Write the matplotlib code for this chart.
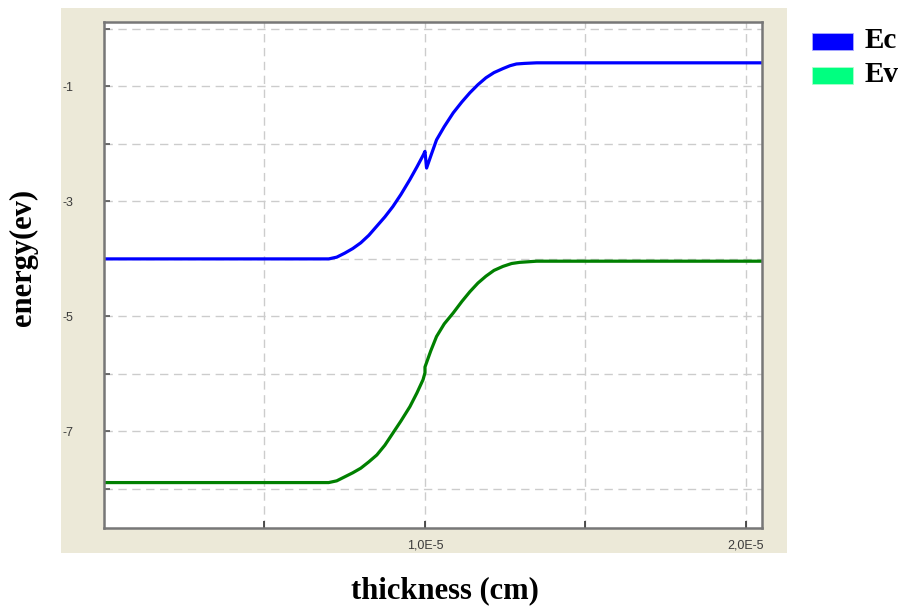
import numpy as np
import matplotlib
matplotlib.use('Agg')
import matplotlib.pyplot as plt
from matplotlib.patches import Rectangle

# thickness in units of 1E-5 cm
ec_x = [0.0, 0.70, 0.725, 0.75, 0.775, 0.80, 0.825, 0.85, 0.875, 0.90, 0.925, 0.953,
        0.975, 0.995, 1.0, 1.005, 1.02, 1.036, 1.06, 1.088, 1.115, 1.14, 1.165, 1.19,
        1.215, 1.243, 1.265, 1.285, 1.31, 1.348, 2.05]
ec_y = [-4.0, -4.0, -3.97, -3.90, -3.82, -3.72, -3.59, -3.43, -3.27, -3.09, -2.88, -2.62,
        -2.40, -2.19, -2.13, -2.42, -2.18, -1.93, -1.70, -1.46, -1.27, -1.11, -0.97, -0.85,
        -0.76, -0.69, -0.64, -0.61, -0.60, -0.59, -0.59]

ev_x = [0.0, 0.70, 0.725, 0.75, 0.775, 0.80, 0.825, 0.85, 0.875, 0.90, 0.925, 0.953,
        0.975, 0.994, 1.0, 1.0, 1.018, 1.036, 1.06, 1.088, 1.115, 1.14, 1.165, 1.19,
        1.215, 1.243, 1.27, 1.295, 1.348, 2.05]
ev_y = [-7.89, -7.89, -7.86, -7.79, -7.72, -7.64, -7.53, -7.41, -7.24, -7.03, -6.82, -6.57,
        -6.33, -6.10, -5.98, -5.88, -5.60, -5.35, -5.13, -4.94, -4.74, -4.57, -4.42, -4.30,
        -4.20, -4.13, -4.08, -4.06, -4.04, -4.04]

series_names = ['Ec', 'Ev']
line_colors = ['#0000ff', '#008000']
legend_colors = ['#0000ff', '#00ff80']

y_ticks = [-8, -7, -6, -5, -4, -3, -2, -1, 0]
y_labeled = [-7, -5, -3, -1]
x_ticks = [0.5, 1.0, 1.5, 2.0]
x_labeled = [1.0, 2.0]

scale = 1e-5
beige = '#ece9d8'

fig = plt.figure(figsize=(9.15, 6.06), dpi=100)
fig.patch.set_facecolor('white')

# beige panel behind the plot area
bg = fig.add_axes([61 / 915, 1 - 553 / 606, (787 - 61) / 915, (553 - 8) / 606], zorder=0)
bg.set_facecolor(beige)
bg.set_xticks([])
bg.set_yticks([])
for sp in bg.spines.values():
    sp.set_visible(False)

ax = fig.add_axes([104 / 915, 1 - 528 / 606, (762 - 104) / 915, (528 - 22) / 606], zorder=2)
ax.set_facecolor('white')

ax.plot(np.array(ec_x) * scale, ec_y, color=line_colors[0], lw=2.3, solid_capstyle='round',
        solid_joinstyle='round')
ax.plot(np.array(ev_x) * scale, ev_y, color=line_colors[1], lw=2.3, solid_capstyle='round',
        solid_joinstyle='round')

ax.set_xlim(0, 2.05 * scale)
ax.set_ylim(-8.68, 0.12)

ax.set_yticks(y_ticks)
ax.set_yticklabels([str(v) if v in y_labeled else '' for v in y_ticks])
ax.set_xticks([v * scale for v in x_ticks])
ax.set_xticklabels([('%.1fE-5' % v).replace('.', ',') if v in x_labeled else '' for v in x_ticks])

ax.grid(True, color='#cccccc', linestyle=(0, (6, 4)), linewidth=1.0)
ax.set_axisbelow(True)

ax.tick_params(axis='y', direction='in', length=4, width=1.2, color='#555555',
               labelsize=9, labelcolor='#3a3a3a', pad=22)
ax.tick_params(axis='x', direction='in', length=5, width=1.2, color='#333333',
               labelsize=9, labelcolor='#3a3a3a', pad=8)
for lab in ax.get_xticklabels() + ax.get_yticklabels():
    lab.set_family('Liberation Sans')

for sp in ax.spines.values():
    sp.set_color('#777777')
    sp.set_linewidth(1.8)

fig.text(23 / 915, 1 - 257 / 606, 'energy(ev)', fontsize=22, fontweight='bold',
         family='Liberation Serif', rotation=90, ha='center', va='center')
fig.text(445 / 915, 1 - 591 / 606, 'thickness (cm)', fontsize=22, fontweight='bold',
         family='Liberation Serif', ha='center', va='center')

# legend drawn as colour blocks with labels
for i, name in enumerate(series_names):
    yc = 1 - (41 + i * 34) / 606
    fig.patches.append(Rectangle((812 / 915, yc - 8.5 / 606), 41 / 915, 17 / 606,
                                 transform=fig.transFigure, facecolor=legend_colors[i],
                                 edgecolor='#aaaaff' if i == 0 else '#aaffcc', lw=0.6))
    fig.text(865 / 915, yc, name, fontsize=21, fontweight='bold', family='Liberation Serif',
             ha='left', va='center')

fig.savefig('out.png', dpi=100)
